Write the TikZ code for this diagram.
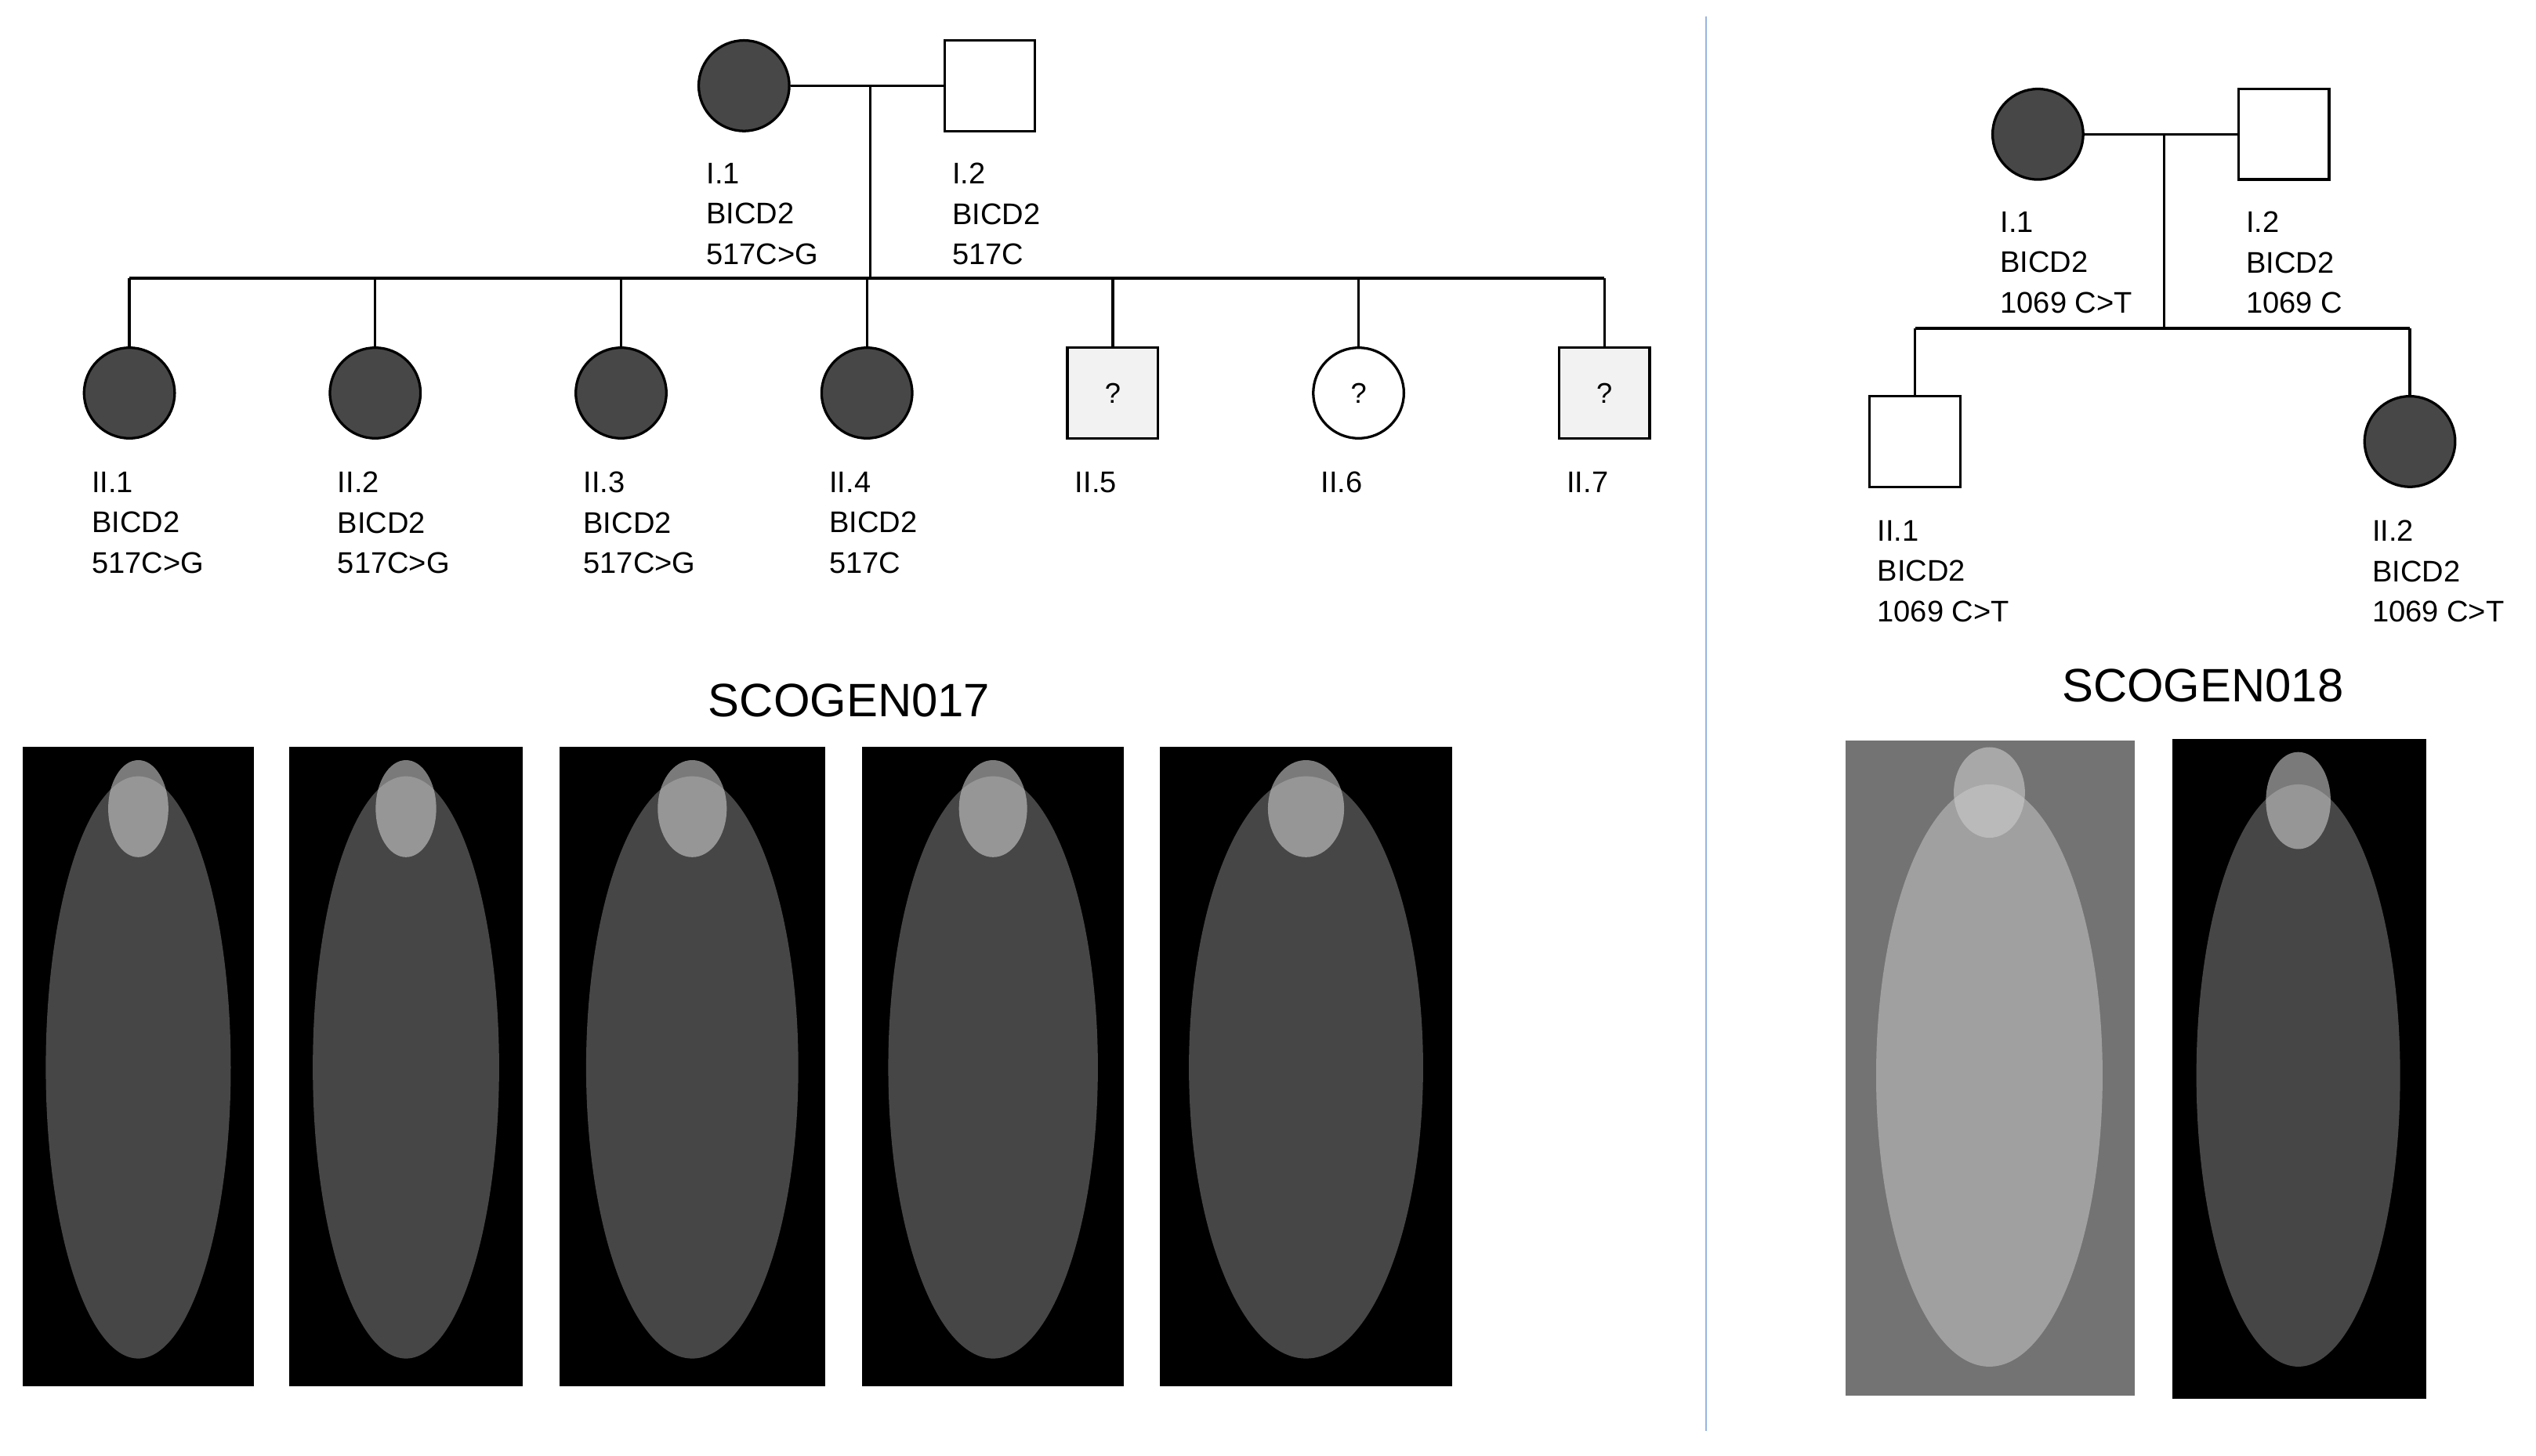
\documentclass[tikz,border=0pt]{standalone}
\usepackage{fontspec}
\setmainfont{Liberation Sans}
\begin{document}
\begin{tikzpicture}[x=0.02cm,y=-0.02cm,
  aff/.style={circle,draw,fill=black!72,minimum size=56*0.02cm,inner sep=0pt},
  female/.style={circle,draw,fill=white,minimum size=56*0.02cm,inner sep=0pt},
  male/.style={rectangle,draw,fill=white,minimum size=56*0.02cm,inner sep=0pt},
  unk/.style={rectangle,draw,fill=black!5,minimum size=56*0.02cm,inner sep=0pt,font=\fontsize{10}{12}\selectfont},
  lbl/.style={anchor=north west,align=left,inner sep=0pt,font=\fontsize{10.5}{14.2}\selectfont},
  ttl/.style={font=\fontsize{16.5}{20}\selectfont},
  xray/.style={fill=black},
  line width=0.9pt]
\useasboundingbox (0,0) rectangle (1568,900);
% left pedigree
\node[aff] (l11) at (460,53) {};
\node[male] (l12) at (612,53) {};
\draw (l11) -- (l12);
\coordinate (lm) at (538,53);
\coordinate (ls) at (538,172);
\draw (lm) -- (ls);
\foreach \i/\x/\s/\t in {1/80/aff/,2/232/aff/,3/384/aff/,4/536/aff/,5/688/unk/?,6/840/female/?,7/992/unk/?}{
  \node[\s,font=\fontsize{10}{12}\selectfont] (l2\i) at (\x,243) {\t};
  \coordinate (lt\i) at (\x,172);
  \draw (lt\i) -- (l2\i);
}
\draw (lt1) -- (lt7);
\node[lbl] at (436,100) {I.1\\BICD2\\517C>G};
\node[lbl] at (588,100) {I.2\\BICD2\\517C};
\node[lbl] at (56,291) {II.1\\BICD2\\517C>G};
\node[lbl] at (208,291) {II.2\\BICD2\\517C>G};
\node[lbl] at (360,291) {II.3\\BICD2\\517C>G};
\node[lbl] at (512,291) {II.4\\BICD2\\517C};
\node[lbl] at (664,291) {II.5};
\node[lbl] at (816,291) {II.6};
\node[lbl] at (968,291) {II.7};
\node[ttl] at (525,433) {SCOGEN017};
\foreach \a/\b in {14/157,179/323,346/510,533/695,717/898}{
  \fill[xray] (\a,462) rectangle (\b,857);
  \fill[black!45,opacity=0.5] ({(\a+\b)/2},660) ellipse ({(\b-\a)*0.4} and 180);
  \fill[black!20,opacity=0.6] ({(\a+\b)/2},500) ellipse ({(\b-\a)*0.13} and 30);
}
% divider
\coordinate (d1) at (1055,10);
\coordinate (d2) at (1055,885);
\draw[line width=0.6pt,color={rgb,255:red,150;green,180;blue,225}] (d1) -- (d2);
% right pedigree
\node[aff] (r11) at (1260,83) {};
\node[male] (r12) at (1412,83) {};
\draw (r11) -- (r12);
\coordinate (rm) at (1338,83);
\coordinate (rs) at (1338,203);
\draw (rm) -- (rs);
\node[male] (r21) at (1184,273) {};
\node[aff] (r22) at (1490,273) {};
\coordinate (rt1) at (1184,203);
\coordinate (rt2) at (1490,203);
\draw (rt1) -- (rt2);
\draw (rt1) -- (r21);
\draw (rt2) -- (r22);
\node[lbl] at (1236,130) {I.1\\BICD2\\1069 C>T};
\node[lbl] at (1388,130) {I.2\\BICD2\\1069 C};
\node[lbl] at (1160,321) {II.1\\BICD2\\1069 C>T};
\node[lbl] at (1466,321) {II.2\\BICD2\\1069 C>T};
\node[ttl] at (1362,424) {SCOGEN018};
\fill[black!55] (1141,458) rectangle (1320,863);
\fill[black!25,opacity=0.6] (1230,665) ellipse (70 and 180);
\fill[black!20,opacity=0.6] (1230,490) ellipse (22 and 28);
\fill[xray] (1343,457) rectangle (1500,865);
\fill[black!45,opacity=0.5] (1421,665) ellipse (63 and 180);
\fill[black!20,opacity=0.6] (1421,495) ellipse (20 and 30);
\end{tikzpicture}
\end{document}
